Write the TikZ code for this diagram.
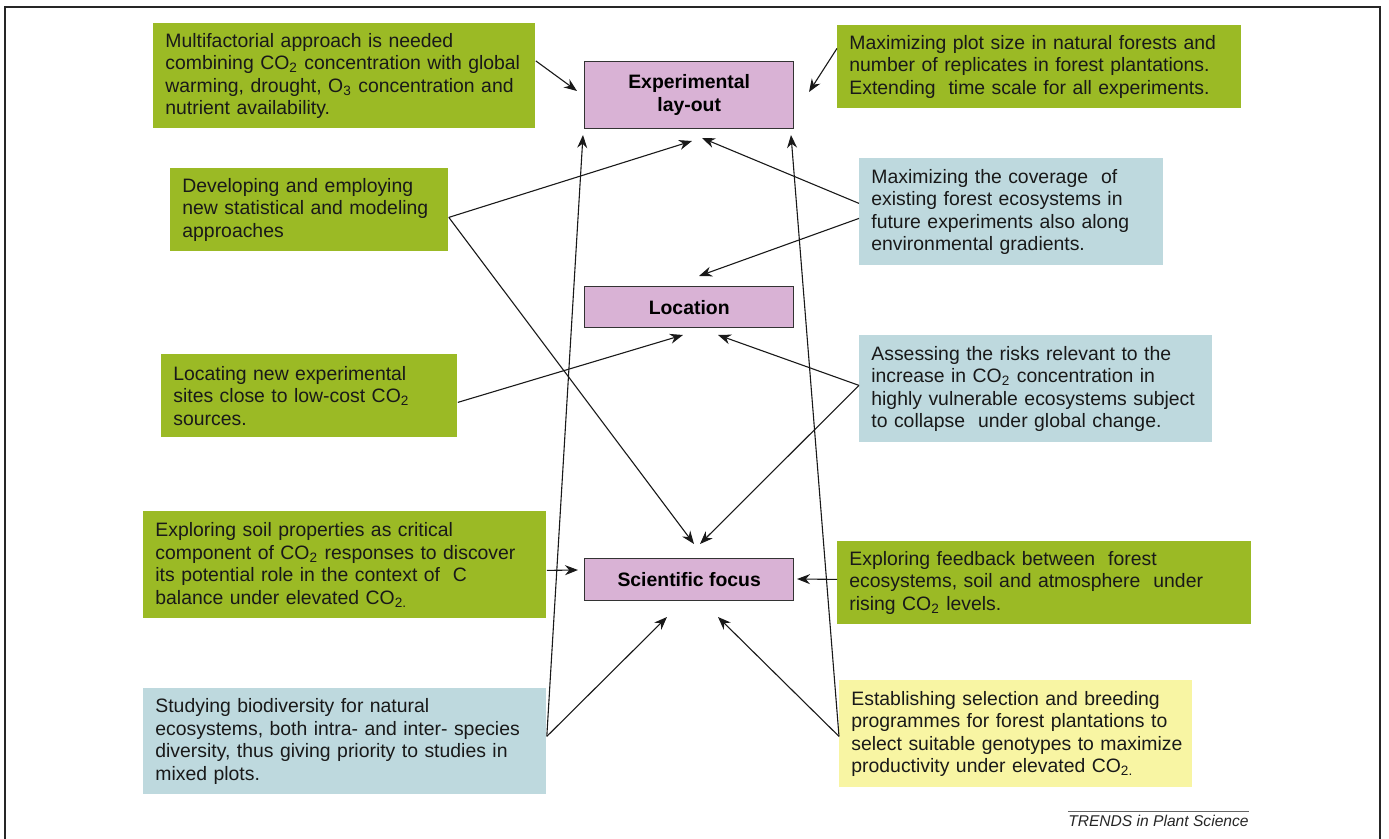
\documentclass[tikz,border=0pt]{standalone}
\usepackage{fontspec}
\setmainfont{Liberation Sans}
\usetikzlibrary{arrows.meta}
\definecolor{trendsgreen}{HTML}{9BBA25}
\definecolor{trendsblue}{HTML}{BED9DE}
\definecolor{trendspink}{HTML}{D9B2D5}
\definecolor{trendsyellow}{HTML}{F8F5A3}

\begin{document}
\begin{tikzpicture}[x=0.5pt, y=-0.5pt,
    notebox/.style={rectangle, anchor=north west, inner xsep=6pt, inner ysep=0pt, align=left, text=black!90, font=\fontsize{9.7}{11.2}\selectfont},
    focusbox/.style={rectangle, anchor=north west, draw=black!80, line width=0.7pt, fill=trendspink, minimum width=104.5pt, align=center, font=\fontsize{9.7}{11.6}\selectfont\bfseries},
    link/.style={-{Stealth[length=6.5pt, width=5pt]}, line width=0.55pt, black!90}]
    \useasboundingbox (0,0) rectangle (1389,839);
    % Frame
    \draw[line width=0.75pt, black!85] (5,845) -- (5,7) -- (1380,7) -- (1380,845);

    % Central boxes
    \node[focusbox, minimum height=33.5pt] (exp) at (584,61) {Experimental\\lay-out};
    \node[focusbox, minimum height=20.5pt] (loc) at (584,286) {Location};
    \node[focusbox, minimum height=21pt] (sci) at (584,558) {Scientific focus};

    % Left column
    \node[notebox, fill=trendsgreen, text width=179pt, minimum height=52.5pt] (multi) at (153,23) {Multifactorial approach is needed\\combining CO\textsubscript{2} concentration with global\\warming, drought, O\textsubscript{3} concentration and\\nutrient availability.};
    \node[notebox, fill=trendsgreen, text width=127pt, minimum height=41.5pt] (stats) at (170,168) {Developing and employing\\new statistical and modeling\\approaches};
    \node[notebox, fill=trendsgreen, text width=136pt, minimum height=41.5pt] (sites) at (161,354) {Locating new experimental\\sites close to low-cost CO\textsubscript{2}\\sources.};
    \node[notebox, fill=trendsgreen, text width=189.5pt, minimum height=53.5pt] (soil) at (143,511) {Exploring soil properties as critical\\component of CO\textsubscript{2} responses to discover\\its potential role in the context of\ \ C\\balance under elevated CO\textsubscript{2.}};
    \node[notebox, fill=trendsblue, text width=189.5pt, minimum height=53pt] (biodiv) at (143,688) {Studying biodiversity for natural\\ecosystems, both intra- and inter- species\\diversity, thus giving priority to studies in\\mixed plots.};

    % Right column
    \node[notebox, fill=trendsgreen, text width=190pt, minimum height=41.5pt] (plot) at (837,25) {Maximizing plot size in natural forests and\\number of replicates in forest plantations.\\Extending\ \ time scale for all experiments.};
    \node[notebox, fill=trendsblue, text width=140pt, minimum height=53.5pt] (cover) at (859,158) {Maximizing the coverage\ \ of\\existing forest ecosystems in\\future experiments also along\\environmental gradients.};
    \node[notebox, fill=trendsblue, text width=164.5pt, minimum height=53.5pt] (risks) at (859,335) {Assessing the risks relevant to the\\increase in CO\textsubscript{2} concentration in\\highly vulnerable ecosystems subject\\to collapse\ \ under global change.};
    \node[notebox, fill=trendsgreen, text width=195pt, minimum height=41.5pt] (feedback) at (837,541) {Exploring feedback between\ \ forest\\ecosystems, soil and atmosphere\ \ under\\rising CO\textsubscript{2} levels.};
    \node[notebox, fill=trendsyellow, text width=164.5pt, minimum height=53.5pt] (breed) at (839,680) {Establishing selection and breeding\\programmes for forest plantations to\\\mbox{select suitable genotypes to maximize}\\productivity under elevated CO\textsubscript{2.}};

    % Arrow tips around the central boxes
    \coordinate (expW) at (577,91);
    \coordinate (expE) at (809,92);
    \coordinate (expSW) at (583,135);
    \coordinate (expS1) at (692,141);
    \coordinate (expS2) at (702,138);
    \coordinate (expSE) at (791,135);
    \coordinate (locN) at (699,276);
    \coordinate (locS1) at (683,335);
    \coordinate (locS2) at (718,335);
    \coordinate (sciN1) at (694,544);
    \coordinate (sciN2) at (700,544);
    \coordinate (sciW) at (578,570);
    \coordinate (sciE) at (797,579);
    \coordinate (sciS1) at (667,617);
    \coordinate (sciS2) at (718,617);

    % Connectors
    \draw[link] ([yshift=7.5pt]multi.east) -- (expW);
    \draw[link] ([yshift=9.25pt]plot.west) -- (expE);
    \draw[link] ([yshift=-3.75pt]stats.east) -- (expS1);
    \draw[link] ([yshift=-3.75pt]stats.east) -- (sciN1);
    \draw[link] ([yshift=4.25pt]cover.west) -- (expS2);
    \draw[link] ([yshift=-3.25pt]cover.west) -- (locN);
    \draw[link] ([yshift=-3.25pt]sites.east) -- (locS1);
    \draw[link] ([yshift=1.75pt]risks.west) -- (locS2);
    \draw[link] ([yshift=1.75pt]risks.west) -- (sciN2);
    \draw[link] ([yshift=-2.75pt]soil.east) -- (sciW);
    \draw[link] ([yshift=1.75pt]feedback.west) -- (sciE);
    \draw[link] ([yshift=2.5pt]biodiv.east) -- (sciS1);
    \draw[link] ([yshift=2.5pt]biodiv.east) -- (expSW);
    \draw[link] ([yshift=-1.25pt]breed.west) -- (sciS2);
    \draw[link] ([yshift=-1.25pt]breed.west) -- (expSE);

    % Credit line
    \node[anchor=base east, inner sep=0pt, text=black!85, font=\fontsize{7.8}{9}\selectfont\itshape] (credit) at (1249,827) {TRENDS in Plant Science};
    \draw[black!60, line width=0.5pt] ([yshift=1.8pt]credit.north west) -- ([yshift=1.8pt]credit.north east);
\end{tikzpicture}
\end{document}
